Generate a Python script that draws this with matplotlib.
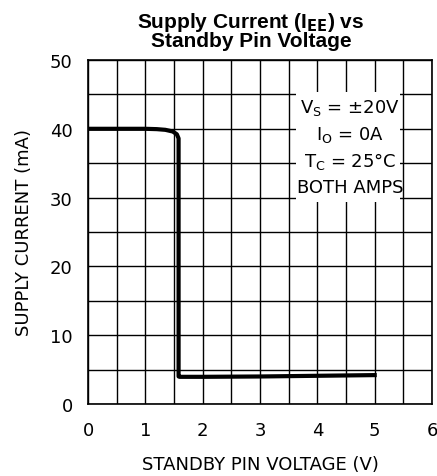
import matplotlib
matplotlib.use("Agg")
import matplotlib.pyplot as plt
import numpy as np
from matplotlib.patches import Rectangle

# Data
voltage = [0.0, 0.5, 1.0, 1.2, 1.35, 1.48, 1.55, 1.58, 1.58, 1.6, 2.0, 3.0, 4.0, 5.0]
current = [40.0, 40.0, 40.0, 39.95, 39.85, 39.6, 39.2, 38.6, 4.0, 3.95, 3.95, 4.0, 4.1, 4.2]
x_ticks = [0, 1, 2, 3, 4, 5, 6]
y_ticks = [0, 10, 20, 30, 40, 50]
title = r"Supply Current (I$_\mathbf{EE}$) vs" + "\nStandby Pin Voltage"
conditions = [r"V$_\mathregular{S}$ = ±20V", r"I$_\mathregular{O}$ = 0A",
              r"T$_\mathregular{C}$ = 25°C", "BOTH AMPS"]

plt.rcParams['font.family'] = ['DejaVu Sans']

fig = plt.figure(figsize=(4.37, 4.77), dpi=100)
ax = fig.add_axes([88/437, 1-405/477, 344/437, 344/477])

ax.plot(voltage, current, color="black", lw=3.0, solid_joinstyle="round")

ax.set_xlim(0, 6)
ax.set_ylim(0, 50)
ax.set_xticks(np.arange(0, 6.01, 0.5), minor=True)
ax.set_yticks(np.arange(0, 50.1, 5), minor=True)
ax.set_xticks(x_ticks)
ax.set_yticks(y_ticks)
ax.grid(True, which="both", color="black", lw=1.0)
ax.tick_params(which="both", length=0)
ax.tick_params(axis="x", pad=12, labelsize=13)
ax.tick_params(axis="y", pad=11, labelsize=13)
for s in ax.spines.values():
    s.set_linewidth(1.2)

ax.set_xlabel("STANDBY PIN VOLTAGE (V)", fontsize=13, labelpad=12)
ax.set_ylabel("SUPPLY CURRENT (mA)", fontsize=13, labelpad=12)

fig.text(251/437, 1 - 31/477, title, ha="center", va="center",
         fontsize=15, fontweight="bold", family="Liberation Sans", linespacing=0.85)

# Conditions box covering grid lines
ax.add_patch(Rectangle((3.63, 29.4), 1.82, 16.0, transform=ax.transData,
                       facecolor="white", edgecolor="none", zorder=3))
ys = [43.2, 39.3, 35.4, 31.6]
for t, yv in zip(conditions, ys):
    ax.text(4.57, yv, t, ha="center", va="center", fontsize=13, zorder=4)

fig.savefig("out.png", dpi=100)
